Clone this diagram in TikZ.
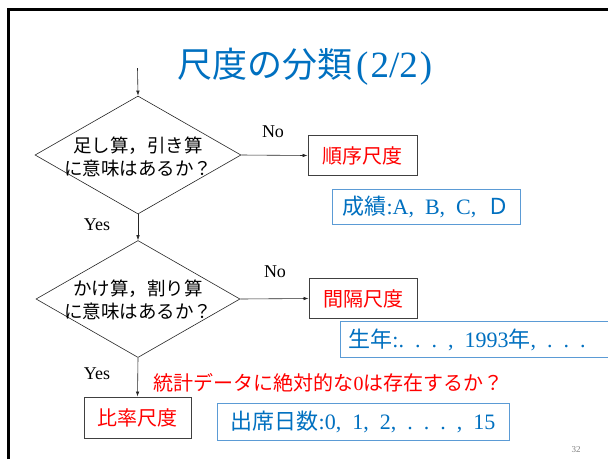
\documentclass[tikz,border=0pt]{standalone}
\usepackage{fontspec}
\setmainfont{Liberation Serif}
\newfontfamily\jp{Noto Sans CJK JP}
\usetikzlibrary{shapes.geometric,arrows.meta}
\definecolor{tblue}{RGB}{0,112,192}
\definecolor{lblue}{RGB}{91,155,213}
\definecolor{tred}{RGB}{255,0,0}
\begin{document}
\begin{tikzpicture}[x=1pt,y=-1pt,
  dia/.style={draw=black!85, line width=0.6pt, shape=diamond, inner sep=0pt},
  redbox/.style={draw=black!75, line width=0.9pt, text=tred, font=\jp\fontsize{20}{24}\selectfont, inner sep=0pt},
  bluebox/.style={draw=lblue, line width=0.9pt, text=tblue, font=\fontsize{22}{26}\selectfont, inner sep=0pt},
  flow/.style={draw=black!85, line width=0.6pt, -{Latex[length=5pt,width=3.5pt]}},
  lbl/.style={font=\fontsize{18}{20}\selectfont},
  dtext/.style={font=\jp\fontsize{18.5}{23}\selectfont, align=center}
]
\useasboundingbox (0,0) rectangle (608,459);
\fill[white] (0,0) rectangle (608,459);
\draw[line width=2.7pt] (8.7,459) -- (8.7,9.3) -- (608,9.3);

\node[text=tblue, anchor=west, font=\fontsize{35}{40}\selectfont, inner sep=0pt] (title) at (177,67) {{\jp 尺度の分類}{\fontsize{37}{40}\selectfont\kern4pt(\kern2pt 2/2\kern2pt)}};

\coordinate (start) at (137.5,68);
\node[dia, minimum width=206pt, minimum height=118pt] (d1) at (138,155) {};
\node[dtext] (t1) at (138,156.5) {足し算，引き算\\に意味はあるか？};
\node[dia, minimum width=204pt, minimum height=117pt] (d2) at (138,299) {};
\node[dtext] (t2) at (138,299.5) {かけ算，割り算\\に意味はあるか？};

\node[redbox, minimum width=109pt, minimum height=40pt] (r1) at (362.5,155.5) {順序尺度};
\node[redbox, minimum width=108pt, minimum height=40pt] (r2) at (363,298.5) {間隔尺度};
\node[redbox, minimum width=107pt, minimum height=41pt] (r3) at (137.5,417.5) {比率尺度};

\draw[flow] (start) -- (d1.north);
\draw[flow] (d1.south) -- (d2.north);
\draw[flow] (d2.south) -- (r3.north);
\draw[flow] (d1.east) -- (r1.west);
\draw[flow] (d2.east) -- (r2.west);

\node[lbl] (no1) at (273,132) {No};
\node[lbl] (no2) at (275,272) {No};
\node[lbl] (yes1) at (97,225) {Yes};
\node[lbl] (yes2) at (97,374) {Yes};

\node[bluebox, minimum width=188pt, minimum height=35pt] (b1) at (426,206.5) {{\jp 成績}:A,\enspace B,\enspace C,\enspace{\jp Ｄ}};
\node[bluebox, draw=none, anchor=west, minimum height=35pt] (b2) at (340,339.5) {\hspace*{8pt}{\jp 生年}:.\enspace.\enspace.\enspace,\enspace 1993{\jp 年},\enspace.\enspace.\enspace.};
\draw[lblue, line width=0.9pt] (b2.north west) ++(272,0) -- (b2.north west) -- (b2.south west) -- ++(272,0);
\node[bluebox, minimum width=292pt, minimum height=37pt] (b3) at (363,421.5) {{\jp 出席日数}:0,\enspace 1,\enspace 2,\enspace.\enspace.\enspace.\enspace,\enspace 15};

\node[text=tred, font=\jp\fontsize{20}{24}\selectfont] (q) at (328.5,383) {統計データに絶対的な{\rmfamily 0}は存在するか？};

\node[text=black!50, font=\fontsize{9}{10}\selectfont] (pg) at (576,450) {32};
\end{tikzpicture}
\end{document}
